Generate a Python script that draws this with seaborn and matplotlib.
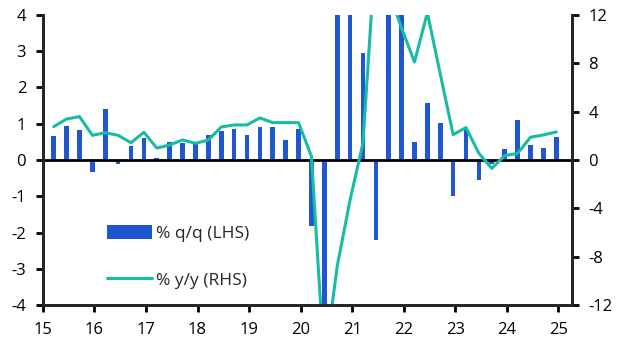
import matplotlib
matplotlib.use("Agg")
import pandas as pd
from matplotlib import pyplot as plt
import seaborn as sns

# quarterly data, 2015Q1 - 2024Q4
quarters = pd.period_range("2015Q1", "2024Q4", freq="Q")

qoq = [0.66, 0.94, 0.83, -0.33,
       1.41, -0.11, 0.39, 0.62,
       0.05, 0.49, 0.46, 0.44,
       0.69, 0.80, 0.86, 0.69,
       0.91, 0.91, 0.55, 0.86,
       -1.81, -15.0, 8.5, 6.0,
       2.94, -2.20, 5.7, 4.5,
       0.51, 1.58, 1.03, -0.99,
       0.89, -0.55, -0.12, 0.29,
       1.09, 0.40, 0.32, 0.63]

yoy = [2.76, 3.39, 3.59, 2.04,
       2.26, 2.04, 1.43, 2.29,
       0.99, 1.24, 1.66, 1.38,
       1.65, 2.73, 2.90, 2.90,
       3.48, 3.09, 3.09, 3.09,
       0.30, -16.9, -8.8, -3.3,
       1.40, 17.8, 13.9, 10.9,
       8.1, 12.2, 7.1, 2.1,
       2.68, 0.55, -0.69, 0.36,
       0.55, 1.88, 2.07, 2.32]

x_ticks = list(range(2015, 2026))
x_tick_labels = [str(y)[2:] for y in x_ticks]
left_ticks = [-4, -3, -2, -1, 0, 1, 2, 3, 4]
right_ticks = [-12, -8, -4, 0, 4, 8, 12]

BLUE = "#1F57D1"
TEAL = "#17BCA5"

# bars sit near the end of each quarter
df = pd.DataFrame({
    "pos": [q.year + (q.quarter - 1) * 0.25 + 0.21 for q in quarters],
    "qoq": qoq,
    "yoy": yoy,
})

sns.set_style("ticks")
plt.rcParams["font.family"] = ["Open Sans", "DejaVu Sans"]

fig, ax = plt.subplots(figsize=(6.31, 3.54), dpi=100)
fig.subplots_adjust(left=0.068, right=0.906, top=0.958, bottom=0.138)

sns.barplot(data=df, x="pos", y="qoq", native_scale=True, width=0.36,
            color=BLUE, saturation=1, errorbar=None, ax=ax, linewidth=0,
            label="% q/q (LHS)")
ax.axhline(0, color="black", lw=2, zorder=5)

ax2 = ax.twinx()
sns.lineplot(data=df, x="pos", y="yoy", color=TEAL, lw=2.2, ax=ax2,
             label="% y/y (RHS)")

ax.set_xlim(2015, 2025.26)
ax.set_ylim(-4, 4)
ax2.set_ylim(-12, 12)
ax.set_xticks(x_ticks)
ax.set_xticklabels(x_tick_labels)
ax.set_yticks(left_ticks)
ax.set_yticklabels([str(t) for t in left_ticks])
ax2.set_yticks(right_ticks)
ax2.set_yticklabels([str(t) for t in right_ticks])
ax.set_xlabel("")
ax.set_ylabel("")
ax2.set_ylabel("")

for a in (ax, ax2):
    a.spines["top"].set_visible(False)
    for s in ("left", "right", "bottom"):
        a.spines[s].set_linewidth(2)
    a.tick_params(length=5, width=2, labelsize=12, pad=7, colors="black")

h1, l1 = ax.get_legend_handles_labels()
h2, l2 = ax2.get_legend_handles_labels()
ax2.legend(h1 + h2, l1 + l2, loc="upper left", bbox_to_anchor=(0.104, 0.306),
           frameon=False, borderpad=0, labelspacing=1.68, handlelength=2.6,
           handleheight=0.9, handletextpad=0.25, fontsize=12.5)
if ax.get_legend() is not None:
    ax.get_legend().remove()

fig.savefig("out.png", dpi=100)
plt.close()
